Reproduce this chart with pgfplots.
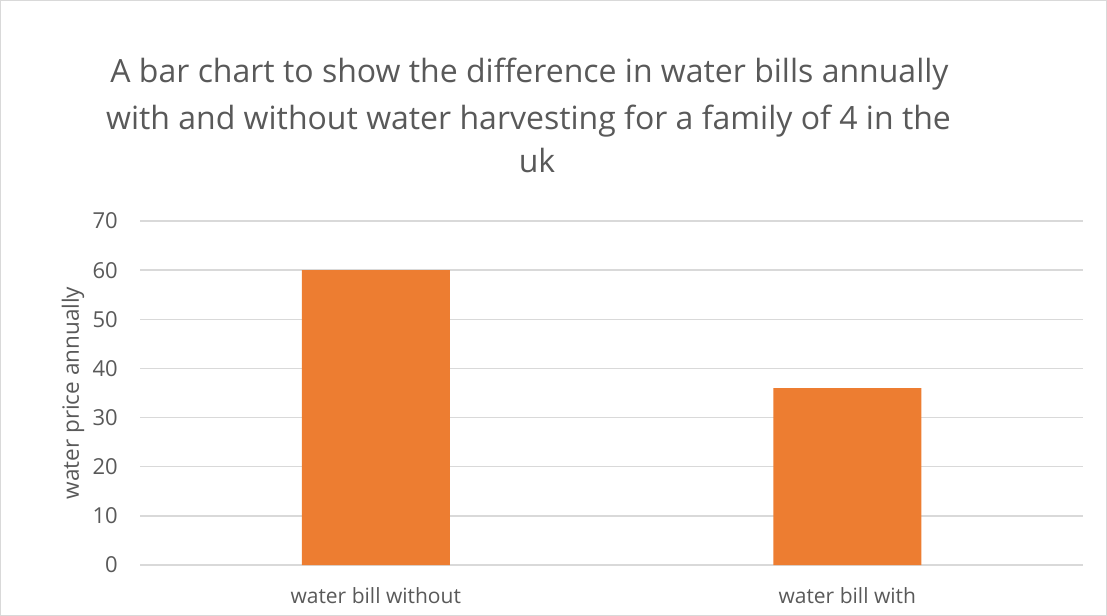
\documentclass[border=0pt]{standalone}
\usepackage{pgfplots}
\pgfplotsset{compat=1.18}
\usepackage{fontspec}
\setmainfont{Open Sans}
\definecolor{titlegray}{HTML}{595959}
\definecolor{gridgray}{HTML}{D9D9D9}
\definecolor{barorange}{HTML}{ED7D31}
\begin{document}
\begin{tikzpicture}[x=1bp,y=1bp]
\draw[gridgray, line width=1.3bp] (0.65bp,0.65bp) rectangle (1106.35bp,615.35bp);
\useasboundingbox (0bp,0bp) rectangle (1107bp,616bp);
\node[titlegray, font=\fontsize{32bp}{45bp}\selectfont, anchor=base, inner sep=0pt] at (529.5bp,533bp) {A bar chart to show the difference in water bills annually};
\node[titlegray, font=\fontsize{32bp}{45bp}\selectfont, anchor=base, inner sep=0pt] at (528.5bp,486bp) {with and without water harvesting for a family of 4 in the};
\node[titlegray, font=\fontsize{32bp}{45bp}\selectfont, anchor=base, inner sep=0pt] at (537bp,443bp) {uk};
\begin{axis}[
  at={(140bp,51bp)}, anchor=south west,
  scale only axis, width=943bp, height=344bp,
  xmin=-0.5, xmax=1.5, ymin=0, ymax=70,
  ytick={0,10,...,70},
  xtick={0,1}, xticklabels={water bill without, water bill with},
  axis line style={draw=none},
  major tick length=0pt,
  ymajorgrids, grid style={gridgray, line width=1.3bp},
  /pgf/number format/assume math mode=true,
  yticklabel style={titlegray, font=\fontsize{22bp}{26bp}\selectfont, anchor=east, inner sep=0pt, xshift=-22bp},
  xticklabel style={titlegray, font=\fontsize{21bp}{25bp}\selectfont, anchor=base, inner sep=0pt, yshift=-38bp},
  ylabel={water price annually},
  every axis y label/.style={at={(axis description cs:-0.07105,0.5)}, anchor=center, rotate=90, color=titlegray, font=\fontsize{22.5bp}{26bp}\selectfont},
  ybar, bar width=148bp,
  clip=false,
]
\addplot[fill=barorange, draw=none, bar shift=0pt] coordinates {(0,60) (1,36)};
\end{axis}
\end{tikzpicture}
\end{document}
